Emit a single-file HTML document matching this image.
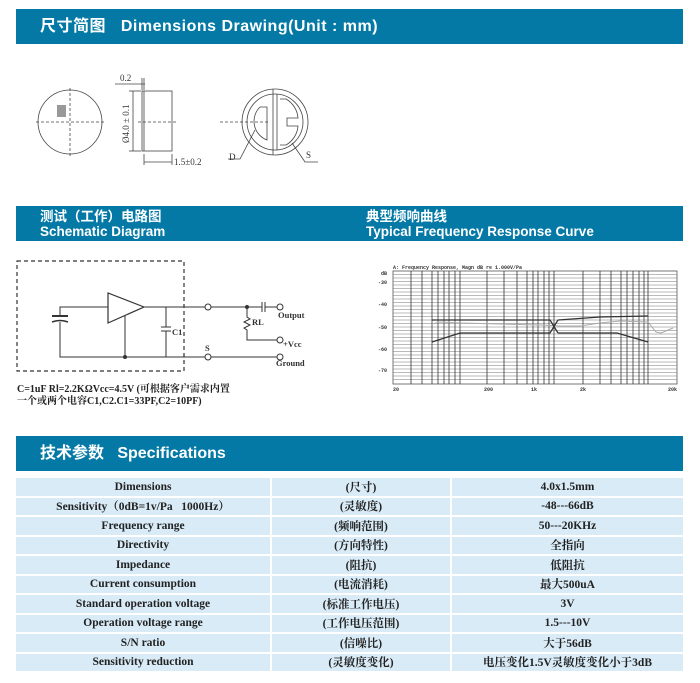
<!DOCTYPE html>
<html><head><meta charset="utf-8"><style>
body{margin:0;width:700px;height:683px;background:#fff;overflow:hidden;position:relative;font-family:"Liberation Sans","Noto Sans CJK SC",sans-serif}
.hd{position:absolute;left:16px;width:667px;background:#0479a6;color:#fff;font-weight:bold}
table{position:absolute;left:16px;top:476px;width:667px;border-collapse:separate;border-spacing:0 2px;font-family:"Liberation Serif","Noto Serif CJK SC",serif;font-weight:bold;font-size:11.5px;color:#222}
td{background:#d8ebf7;height:17.5px;text-align:center;padding:0;border-right:2px solid #fff}
td:last-child{border-right:none}
</style></head><body>
<div class="hd" style="top:9px;height:35px;font-size:16px;line-height:35px;padding-left:24px;box-sizing:border-box;letter-spacing:0.5px">尺寸简图 &nbsp; Dimensions Drawing(Unit : mm)</div>
<div class="hd" style="top:206px;height:35px;font-size:13.5px;line-height:15px;box-sizing:border-box;padding-top:3px">
<div style="position:absolute;left:24px;top:3px">测试（工作）电路图<br>Schematic Diagram</div>
<div style="position:absolute;left:350px;top:3px">典型频响曲线<br>Typical Frequency Response Curve</div></div>
<div class="hd" style="top:436px;height:35px;font-size:16px;line-height:35px;padding-left:24px;box-sizing:border-box">技术参数 &nbsp; Specifications</div>

<svg width="700" height="683" style="position:absolute;left:0;top:0" font-family="Liberation Serif,serif">
<!-- dims -->
<g stroke="#444" fill="none" stroke-width="0.8">
<ellipse cx="70" cy="122" rx="32" ry="32"/>
<line x1="36" y1="122" x2="104" y2="122" stroke-dasharray="3,2"/>
<line x1="70" y1="88" x2="70" y2="156" stroke-dasharray="3,2"/>
<rect x="142" y="91" width="30" height="60"/>
<line x1="144" y1="91" x2="144" y2="151"/>
<line x1="138" y1="122" x2="178" y2="122" stroke-dasharray="3,2"/>
<line x1="133" y1="91" x2="133" y2="151"/>
<line x1="129" y1="91" x2="141" y2="91"/><line x1="129" y1="151" x2="141" y2="151"/>
<line x1="115" y1="84" x2="145" y2="84"/><line x1="142" y1="78" x2="142" y2="90"/><line x1="144" y1="78" x2="144" y2="90"/>
<line x1="144" y1="154" x2="144" y2="165"/><line x1="172" y1="154" x2="172" y2="165"/>
<line x1="144" y1="162" x2="172" y2="162"/>
<circle cx="275" cy="122" r="33"/><circle cx="275" cy="122" r="28"/>
<line x1="273" y1="89" x2="273" y2="155"/><line x1="277" y1="94" x2="277" y2="150"/>
<line x1="220" y1="122" x2="268" y2="122" stroke-dasharray="3,2"/>
<path d="M267 107 L260 107 A20 20 0 0 0 267 140 Z"/>
<path d="M280 99 L286 99 A24 24 0 0 1 298 118 L287 118 L287 126 L298 126 A24 24 0 0 1 286 145 L280 145"/>
<path d="M255 130 L240 159 L228 159"/><path d="M292 143 L305 162 L318 162"/>
</g>
<rect x="57" y="105" width="9" height="12" fill="#999"/>
<g font-size="9" fill="#333">
<text x="120" y="81">0.2</text><text x="174" y="165">1.5±0.2</text>
<text transform="translate(129,143) rotate(-90)">Ø4.0 ± 0.1</text>
<text x="229" y="160">D</text><text x="306" y="158">S</text></g>
<!-- schematic -->
<g stroke="#333" fill="none" stroke-width="1">
<rect x="17" y="261" width="167" height="110" stroke-dasharray="4,3" stroke-width="1.2"/>
<polyline points="60,316 60,307 108,307"/><polyline points="60,322 60,357 280,357"/>
<line x1="52" y1="316" x2="68" y2="316" stroke-width="2"/><path d="M52 322 Q60 319 68 322" stroke-width="1.5"/>
<polygon points="108,293 108,323 144,307" stroke-width="1.2"/>
<line x1="144" y1="307" x2="205" y2="307"/><line x1="125" y1="316" x2="125" y2="357"/>
<line x1="166" y1="307" x2="166" y2="327"/><line x1="166" y1="331" x2="166" y2="357"/>
<line x1="161" y1="327" x2="171" y2="327"/><line x1="161" y1="331" x2="171" y2="331"/>
<line x1="211" y1="307" x2="262" y2="307"/><line x1="262" y1="302" x2="262" y2="312"/><line x1="265" y1="302" x2="265" y2="312"/>
<line x1="265" y1="307" x2="277" y2="307"/>
<polyline points="247,307 247,317 250,319 244,322 250,325 244,328 247,330 247,340 277,340"/>
<circle cx="208" cy="307" r="3" fill="#fff"/><circle cx="280" cy="307" r="3" fill="#fff"/>
<circle cx="280" cy="340" r="3" fill="#fff"/><circle cx="208" cy="357" r="3" fill="#fff"/><circle cx="280" cy="357" r="3" fill="#fff"/>
</g>
<circle cx="247" cy="307" r="2" fill="#333"/><circle cx="125" cy="357" r="2" fill="#333"/>
<g font-size="8.5" fill="#333" font-weight="bold">
<text x="172" y="335">C1</text><text x="252" y="325">RL</text><text x="278" y="318">Output</text><text x="283" y="347">+Vcc</text>
<text x="205" y="351">S</text><text x="276" y="366">Ground</text></g>
<g font-size="10" fill="#222" font-weight="bold" font-family="Liberation Serif,Noto Serif CJK SC,serif">
<text x="17" y="392">C=1uF Rl=2.2KΩVcc=4.5V (可根据客户需求内置</text>
<text x="17" y="404">一个或两个电容C1,C2.C1=33PF,C2=10PF)</text></g>
<!-- chart -->
<g stroke="#555" stroke-width="0.5">
<rect x="393" y="271" width="284" height="113" fill="none" stroke-width="0.8"/>
<g id="h"></g>
</g>
<g stroke="#777" stroke-width="0.5">
<line x1="393" y1="274.5" x2="677" y2="274.5"/><line x1="393" y1="278" x2="677" y2="278"/><line x1="393" y1="281.5" x2="677" y2="281.5"/><line x1="393" y1="285" x2="677" y2="285"/><line x1="393" y1="288.5" x2="677" y2="288.5"/><line x1="393" y1="292" x2="677" y2="292"/><line x1="393" y1="295.5" x2="677" y2="295.5"/><line x1="393" y1="299" x2="677" y2="299"/><line x1="393" y1="302.5" x2="677" y2="302.5"/><line x1="393" y1="306" x2="677" y2="306"/><line x1="393" y1="309.5" x2="677" y2="309.5"/><line x1="393" y1="313" x2="677" y2="313"/><line x1="393" y1="316.5" x2="677" y2="316.5"/><line x1="393" y1="320" x2="677" y2="320"/><line x1="393" y1="323.5" x2="677" y2="323.5"/><line x1="393" y1="327" x2="677" y2="327"/><line x1="393" y1="330.5" x2="677" y2="330.5"/><line x1="393" y1="334" x2="677" y2="334"/><line x1="393" y1="337.5" x2="677" y2="337.5"/><line x1="393" y1="341" x2="677" y2="341"/><line x1="393" y1="344.5" x2="677" y2="344.5"/><line x1="393" y1="348" x2="677" y2="348"/><line x1="393" y1="351.5" x2="677" y2="351.5"/><line x1="393" y1="355" x2="677" y2="355"/><line x1="393" y1="358.5" x2="677" y2="358.5"/><line x1="393" y1="362" x2="677" y2="362"/><line x1="393" y1="365.5" x2="677" y2="365.5"/><line x1="393" y1="369" x2="677" y2="369"/><line x1="393" y1="372.5" x2="677" y2="372.5"/><line x1="393" y1="376" x2="677" y2="376"/><line x1="393" y1="379.5" x2="677" y2="379.5"/>
</g>
<g stroke="#333" stroke-width="0.8">
<line x1="411" y1="271" x2="411" y2="384"/><line x1="422" y1="271" x2="422" y2="384"/><line x1="432" y1="271" x2="432" y2="384"/><line x1="438" y1="271" x2="438" y2="384"/><line x1="444" y1="271" x2="444" y2="384"/><line x1="449" y1="271" x2="449" y2="384"/><line x1="455" y1="271" x2="455" y2="384"/><line x1="460" y1="271" x2="460" y2="384"/>
<line x1="487" y1="271" x2="487" y2="384"/><line x1="504" y1="271" x2="504" y2="384"/><line x1="517" y1="271" x2="517" y2="384"/><line x1="527" y1="271" x2="527" y2="384"/><line x1="533" y1="271" x2="533" y2="384"/><line x1="538" y1="271" x2="538" y2="384"/><line x1="544" y1="271" x2="544" y2="384"/><line x1="549" y1="271" x2="549" y2="384"/><line x1="554" y1="271" x2="554" y2="384"/>
<line x1="583" y1="271" x2="583" y2="384"/><line x1="600" y1="271" x2="600" y2="384"/><line x1="611" y1="271" x2="611" y2="384"/><line x1="621" y1="271" x2="621" y2="384"/><line x1="627" y1="271" x2="627" y2="384"/><line x1="633" y1="271" x2="633" y2="384"/><line x1="639" y1="271" x2="639" y2="384"/><line x1="644" y1="271" x2="644" y2="384"/><line x1="648" y1="271" x2="648" y2="384"/>
</g>
<polyline fill="none" stroke="#aaa" stroke-width="1" points="432,324 440,322 460,323 500,324 540,325 560,326 580,326 600,323 620,321 648,322 656,332 661,333 673,328"/>
<g fill="none" stroke="#333" stroke-width="1.3">
<polyline points="432,320 550,320 558,333"/><polyline points="432,342 460,333 550,333 558,320"/>
<polyline points="558,320 600,317 648,316"/><polyline points="558,333 617,333 648,342"/>
</g>
<g font-size="5" fill="#333" font-family="Liberation Mono,monospace" font-weight="bold">
<text x="393" y="269">A: Frequency Response, Magn dB re 1.000V/Pa</text>
<text x="381" y="275">dB</text><text x="378" y="284">-30</text><text x="378" y="306">-40</text><text x="378" y="329">-50</text><text x="378" y="351">-60</text><text x="378" y="372">-70</text>
<text x="393" y="391">20</text><text x="484" y="391">200</text><text x="531" y="391">1k</text><text x="580" y="391">2k</text><text x="668" y="391">20k</text></g>
</svg>

<table>
<tr><td style="width:254px">Dimensions</td><td style="width:178px">(尺寸)</td><td>4.0x1.5mm</td></tr>
<tr><td>Sensitivity（0dB=1v/Pa &nbsp; 1000Hz）</td><td>(灵敏度)</td><td>-48---66dB</td></tr>
<tr><td>Frequency range</td><td>(频响范围)</td><td>50---20KHz</td></tr>
<tr><td>Directivity</td><td>(方向特性)</td><td>全指向</td></tr>
<tr><td>Impedance</td><td>(阻抗)</td><td>低阻抗</td></tr>
<tr><td>Current consumption</td><td>(电流消耗)</td><td>最大500uA</td></tr>
<tr><td>Standard operation voltage</td><td>(标准工作电压)</td><td>3V</td></tr>
<tr><td>Operation voltage range</td><td>(工作电压范围)</td><td>1.5---10V</td></tr>
<tr><td>S/N ratio</td><td>(信噪比)</td><td>大于56dB</td></tr>
<tr><td>Sensitivity reduction</td><td>(灵敏度变化)</td><td>电压变化1.5V灵敏度变化小于3dB</td></tr>
</table>
</body></html>
